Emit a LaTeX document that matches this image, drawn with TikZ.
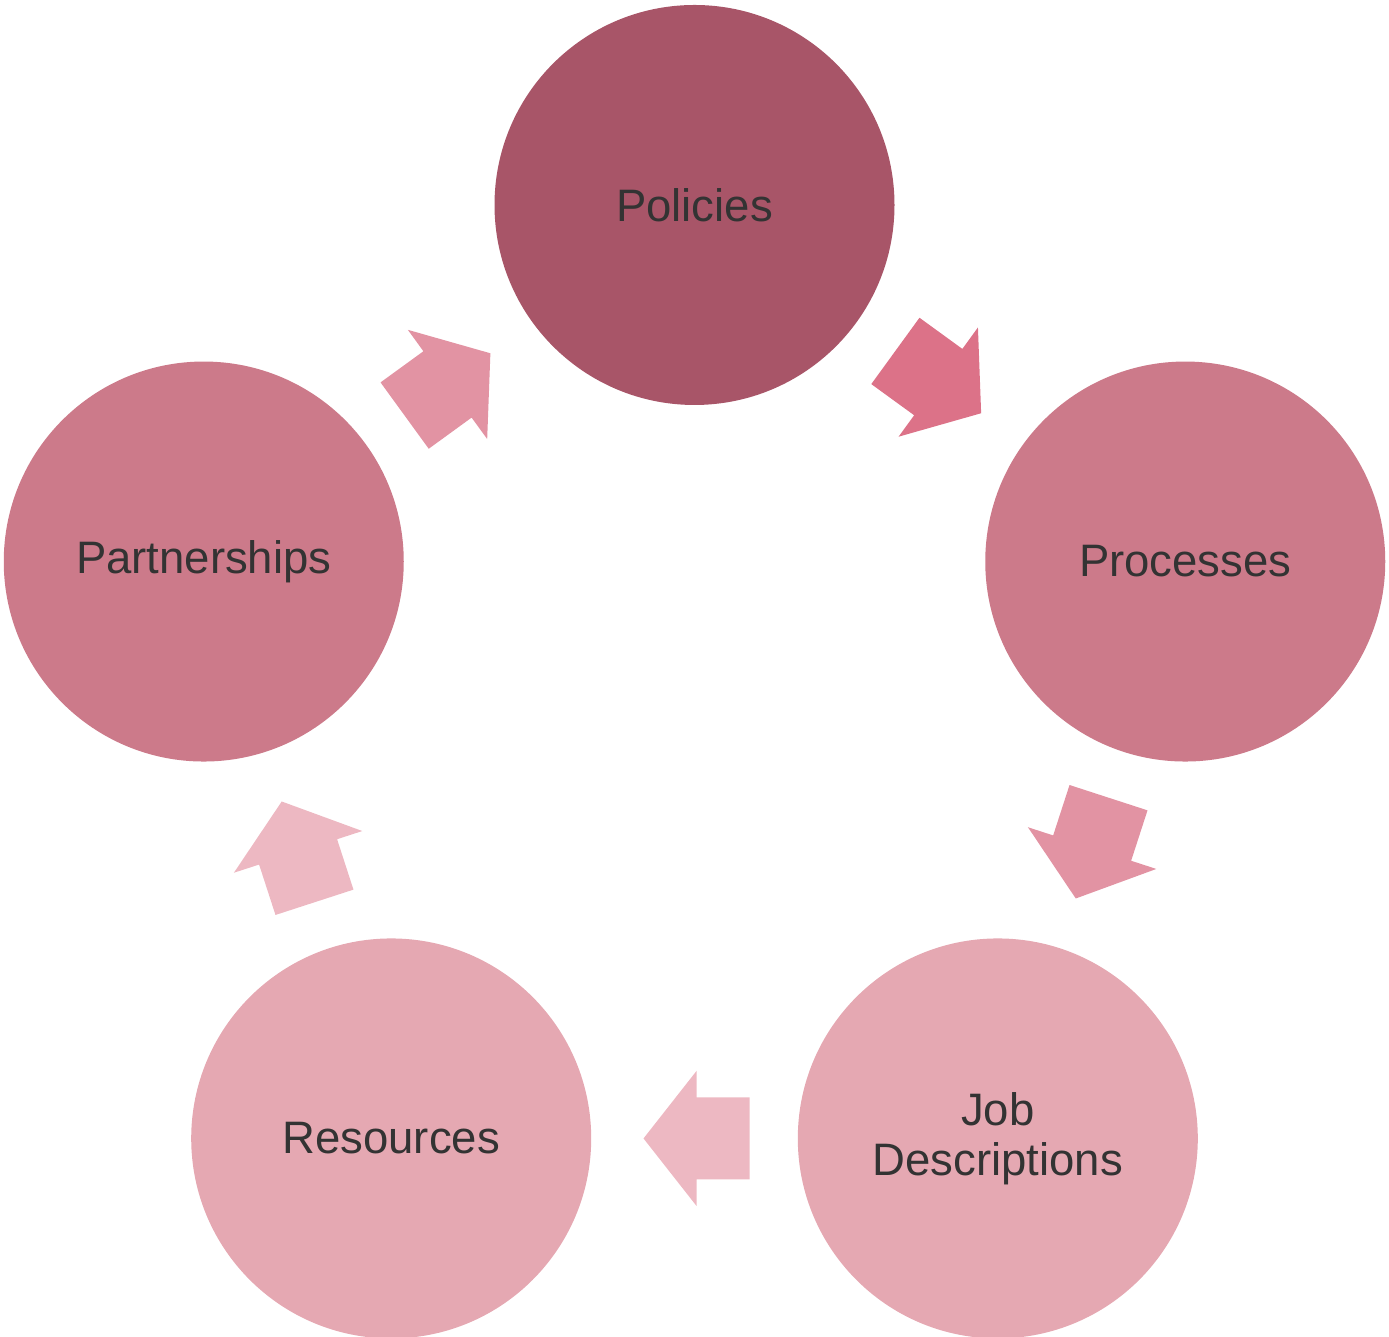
\documentclass[tikz,border=0pt]{standalone}
\usepackage{fontspec}
\setmainfont{Liberation Sans}
\usetikzlibrary{calc}
\definecolor{cPol}{HTML}{A85568}
\definecolor{cMid}{HTML}{CC7A8A}
\definecolor{cLow}{HTML}{E5A8B2}
\definecolor{aOne}{HTML}{DC7288}
\definecolor{aTwo}{HTML}{E293A3}
\definecolor{aThree}{HTML}{EDB8C2}
\definecolor{txt}{HTML}{333333}
\newcommand\blockarrow[4]{%
  \coordinate (m) at ($(#1)!0.5!(#2)$);
  \fill[#4, shift={(m)}, rotate=#3] (-55,41) -- (-2,41) -- (-2,67.5) -- (51,0) -- (-2,-67.5) -- (-2,-41) -- (-55,-41) -- cycle;
}
\begin{document}
\begin{tikzpicture}[x=1pt,y=1pt,
  stage/.style={circle, minimum size=400pt, inner sep=0pt, text=txt,
    font=\fontsize{45.5}{50}\selectfont, align=center}]
\useasboundingbox (0,0) rectangle (1389,1337);
\coordinate (c) at (694.5,616);
\node[stage, fill=cPol] (pol) at ($(c)+(90:516)$) {Policies};
\node[stage, fill=cMid] (pro) at ($(c)+(18:516)$) {Processes};
\node[stage, fill=cLow] (job) at ($(c)+(-54:516)$) {Job\\Descriptions};
\node[stage, fill=cLow] (res) at ($(c)+(-126:516)$) {Resources};
\node[stage, fill=cMid] (par) at ($(c)+(162:516)$) {Partnerships};
\blockarrow{pol}{pro}{-36}{aOne}
\blockarrow{pro}{job}{-108}{aTwo}
\blockarrow{job}{res}{180}{aThree}
\blockarrow{res}{par}{108}{aThree}
\blockarrow{par}{pol}{36}{aTwo}
\end{tikzpicture}
\end{document}
